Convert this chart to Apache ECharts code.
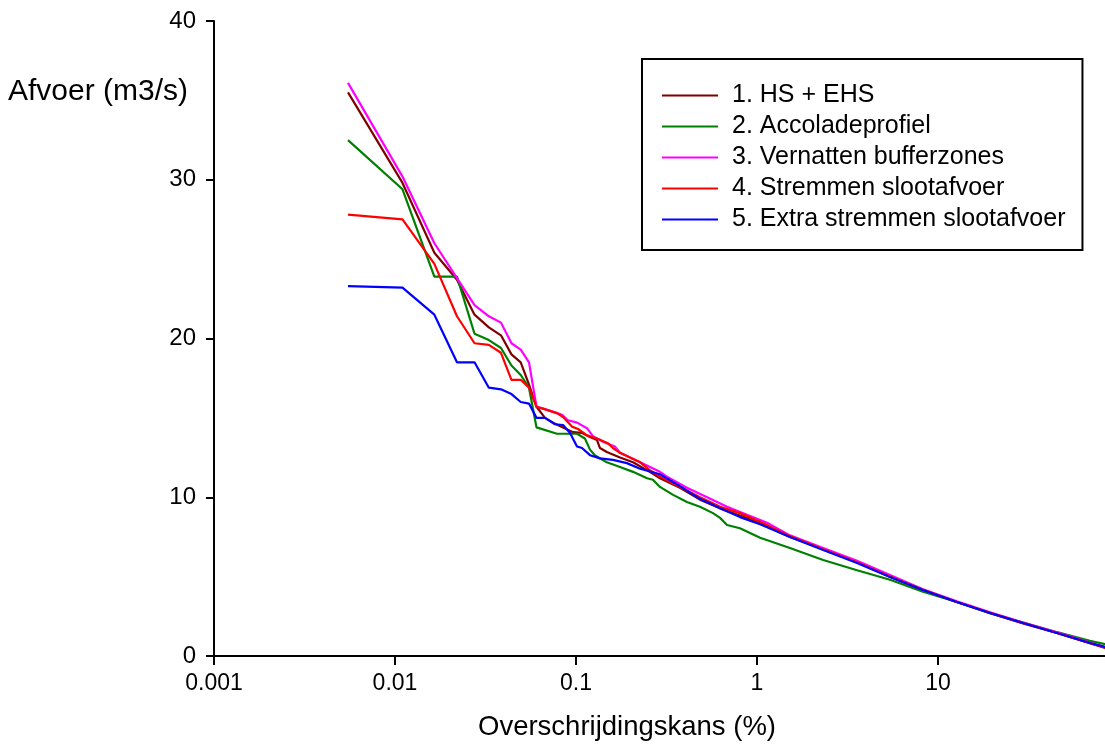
<!DOCTYPE html>
<html>
<head>
<meta charset="utf-8">
<script src="https://cdn.jsdelivr.net/npm/echarts@6/dist/echarts.min.js"></script>
<style>
html,body{margin:0;padding:0;background:#fff;}
#chart{width:1105px;height:744px;}
</style>
</head>
<body>
<div id="chart"></div>
<script>
// Series names (legend)
const seriesNames = ['1. HS + EHS', '2. Accoladeprofiel', '3. Vernatten bufferzones', '4. Stremmen slootafvoer', '5. Extra stremmen slootafvoer'];
const seriesColors = ['#800000', '#008000', '#ff00ff', '#ff0000', '#0000ff'];

// [overschrijdingskans (%), afvoer (m3/s)]
const hsEhs = [[0.0055,35.5],[0.011,29.8],[0.0165,25.4],[0.022,23.7],[0.0275,21.5],[0.033,20.7],[0.0385,20.2],[0.044,19.0],[0.0495,18.5],[0.055,17.1],[0.0605,15.7],[0.0674,15.0],[0.0746,14.7],[0.0848,14.4],[0.0963,14.1],[0.108,14.05],[0.1195,13.8],[0.1306,13.6],[0.1357,13.1],[0.148,12.85],[0.175,12.5],[0.2065,12.2],[0.256,11.6],[0.291,11.2],[0.3755,10.6],[0.484,9.85],[0.625,9.3],[0.805,8.85],[1.04,8.4],[1.52,7.5],[2.32,6.75],[3.57,5.9],[5.43,5.0],[8.26,4.15],[12.7,3.4],[19.4,2.7],[29.5,2.05],[45.4,1.45],[69,0.8],[84,0.5]];
const accolade = [[0.0055,32.5],[0.011,29.4],[0.0165,23.9],[0.022,23.9],[0.0275,20.3],[0.033,19.9],[0.0385,19.4],[0.044,18.3],[0.0495,17.7],[0.055,16.9],[0.0605,14.4],[0.0785,14.0],[0.1013,14.0],[0.112,13.7],[0.1195,13.0],[0.127,12.65],[0.148,12.2],[0.175,11.9],[0.2065,11.6],[0.247,11.2],[0.266,11.1],[0.291,10.65],[0.344,10.15],[0.41,9.7],[0.484,9.4],[0.571,9.0],[0.625,8.7],[0.683,8.25],[0.805,8.05],[1.04,7.45],[1.52,6.8],[2.32,6.05],[3.57,5.4],[5.43,4.8],[8.26,4.05],[12.7,3.4],[19.4,2.7],[29.5,2.1],[45.4,1.5],[69,0.95],[84,0.75]];
const vernatten = [[0.0055,36.1],[0.011,30.2],[0.0165,26.0],[0.022,23.8],[0.0275,22.1],[0.033,21.4],[0.0385,21.0],[0.044,19.7],[0.0495,19.3],[0.055,18.5],[0.0605,15.7],[0.0657,15.6],[0.0785,15.3],[0.0837,15.2],[0.0903,14.85],[0.1013,14.7],[0.115,14.35],[0.124,13.85],[0.141,13.5],[0.164,13.2],[0.175,12.8],[0.226,12.2],[0.291,11.6],[0.318,11.3],[0.41,10.6],[0.53,10.0],[0.683,9.4],[0.88,8.9],[1.136,8.4],[1.52,7.6],[2.32,6.8],[3.57,6.0],[5.43,5.1],[8.26,4.2],[12.7,3.45],[19.4,2.75],[29.5,2.1],[45.4,1.5],[69,0.85],[84,0.55]];
const stremmen = [[0.0055,27.8],[0.011,27.5],[0.0165,24.7],[0.022,21.4],[0.0275,19.7],[0.033,19.6],[0.0385,19.1],[0.044,17.4],[0.0495,17.4],[0.055,16.9],[0.0605,15.7],[0.0785,15.3],[0.0848,15.05],[0.095,14.45],[0.1026,14.3],[0.115,13.9],[0.1306,13.7],[0.150,13.4],[0.16,13.1],[0.175,12.8],[0.226,12.2],[0.256,11.7],[0.291,11.3],[0.3755,10.65],[0.484,10.0],[0.625,9.4],[0.805,9.0],[1.04,8.45],[1.52,7.55],[2.32,6.72],[3.57,5.9],[5.43,5.0],[8.26,4.17],[12.7,3.4],[19.4,2.72],[29.5,2.08],[45.4,1.45],[69,0.82],[84,0.52]];
const extraStremmen = [[0.0055,23.3],[0.011,23.2],[0.0165,21.5],[0.022,18.5],[0.0275,18.5],[0.033,16.9],[0.0385,16.8],[0.044,16.5],[0.0495,16.0],[0.055,15.9],[0.0605,15.0],[0.0674,15.0],[0.0766,14.6],[0.0848,14.55],[0.0927,14.05],[0.1013,13.2],[0.108,13.1],[0.1195,12.65],[0.1357,12.45],[0.16,12.35],[0.191,12.15],[0.226,11.8],[0.291,11.45],[0.3755,10.7],[0.484,9.9],[0.625,9.3],[0.805,8.75],[1.04,8.3],[1.52,7.5],[2.32,6.68],[3.57,5.86],[5.43,4.98],[8.26,4.16],[12.7,3.4],[19.4,2.71],[29.5,2.08],[45.4,1.45],[69,0.82],[84,0.57]];

const xTickLabels = ['0.001', '0.01', '0.1', '1', '10'];
const yTitle = 'Afvoer (m3/s)';
const xTitle = 'Overschrijdingskans (%)';

const allData = [hsEhs, accolade, vernatten, stremmen, extraStremmen];
const FONT = "'Liberation Sans', Arial, sans-serif";

const chart = echarts.init(document.getElementById('chart'), null, {renderer: 'canvas'});
chart.setOption({
  animation: false,
  backgroundColor: '#fff',
  title: [
    {text: yTitle, left: 8, top: 77, padding: 0,
     textStyle: {fontSize: 30, fontWeight: 'normal', fontFamily: FONT, color: '#000'}},
    {text: xTitle, left: 478, top: 713, padding: 0,
     textStyle: {fontSize: 27.5, fontWeight: 'normal', fontFamily: FONT, color: '#000'}}
  ],
  legend: {
    orient: 'vertical',
    left: 642, top: 59,
    padding: [24, 17, 18, 20],
    itemGap: 6,
    icon: 'rect',
    itemWidth: 56, itemHeight: 2,
    borderColor: '#000', borderWidth: 2,
    textStyle: {fontSize: 25, fontFamily: FONT, color: '#000', lineHeight: 25, padding: [0, 0, 0, 9]},
    data: seriesNames
  },
  grid: {left: 214, width: 905, top: 21, bottom: 88, containLabel: false, outerBoundsMode: 'none'},
  xAxis: {
    type: 'log', logBase: 10, min: 0.001, max: 100,
    axisLine: {show: true, lineStyle: {color: '#000', width: 2}},
    axisTick: {show: true, length: 9, lineStyle: {color: '#000', width: 2}},
    minorTick: {show: false},
    splitLine: {show: false},
    axisLabel: {
      fontSize: 23, fontFamily: FONT, color: '#000', margin: 16,
      formatter: function (v) {
        const e = Math.round(Math.log10(v)) + 3;
        return (e >= 0 && e < xTickLabels.length) ? xTickLabels[e] : '';
      }
    }
  },
  yAxis: {
    type: 'value', min: 0, max: 40, interval: 10,
    axisLine: {show: true, lineStyle: {color: '#000', width: 2}},
    axisTick: {show: true, length: 8, lineStyle: {color: '#000', width: 2}},
    splitLine: {show: false},
    axisLabel: {fontSize: 24, fontFamily: FONT, color: '#000', margin: 18}
  },
  series: allData.map(function (d, i) {
    return {
      name: seriesNames[i], type: 'line', data: d,
      symbol: 'none', showSymbol: false, smooth: false,
      lineStyle: {color: seriesColors[i], width: 2.2},
      itemStyle: {color: seriesColors[i]},
      emphasis: {disabled: true}
    };
  })
});
</script>
</body>
</html>
